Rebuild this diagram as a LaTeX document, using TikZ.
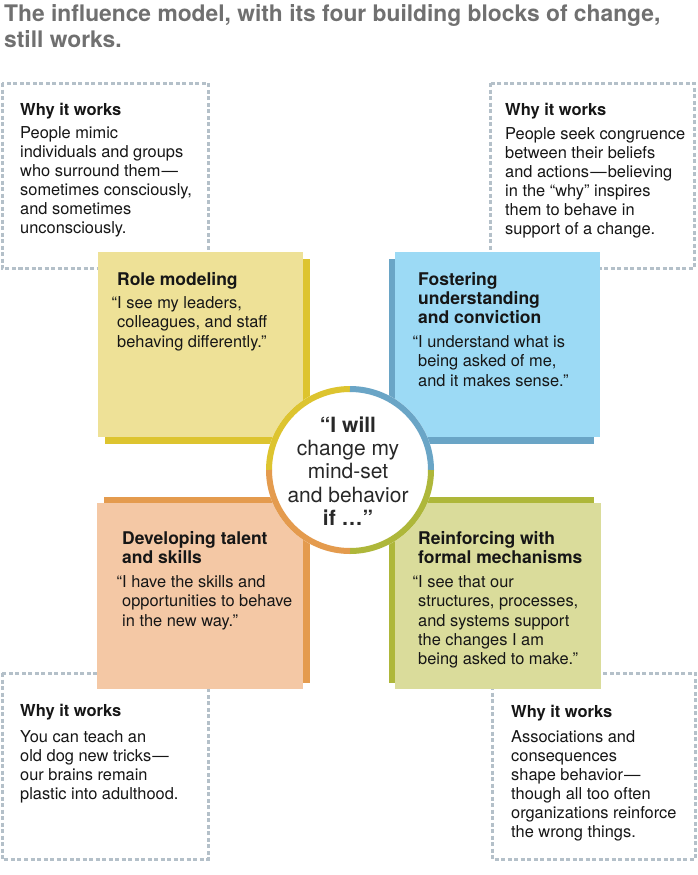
\documentclass[tikz,border=0pt]{standalone}
\usepackage{fontspec}
\setmainfont{TeX Gyre Heros}
\definecolor{titlec}{RGB}{112,112,112}
\definecolor{textc}{RGB}{22,22,22}
\definecolor{circtext}{RGB}{40,40,40}
\definecolor{dashc}{RGB}{180,192,201}
\definecolor{ylight}{RGB}{238,225,151}
\definecolor{ydark}{RGB}{221,196,47}
\definecolor{blight}{RGB}{156,218,245}
\definecolor{bdark}{RGB}{106,165,198}
\definecolor{glight}{RGB}{218,220,155}
\definecolor{gdark}{RGB}{174,183,58}
\definecolor{olight}{RGB}{244,200,165}
\definecolor{odark}{RGB}{228,155,78}
\newcommand\sr[1]{\rule{0pt}{#1}}
\newcommand\emd{\kern1.2pt—\kern1.2pt}
\newcommand\bodyfont{\fontsize{16.4}{19}\selectfont}
\newcommand\sqbodyfont{\fontsize{16.4}{19.4}\selectfont}
\newcommand\whyfont{\bfseries\fontsize{16.5}{19}\selectfont}
\newcommand\headfont{\bfseries\fontsize{17.5}{19}\selectfont}
\begin{document}
\begin{tikzpicture}[x=1pt,y=-1pt,
  txt/.style={inner sep=0pt, anchor=north west, align=left, text=textc},
  whybox/.style={draw=dashc, line width=3pt, dash pattern=on 4pt off 2.5pt},
  ring/.style={line width=6pt}]
\useasboundingbox (0,0) rectangle (697,875);
\fill[white] (0,0) rectangle (697,875);

% title
\node[txt, text=titlec, font=\bfseries\fontsize{22.8}{26}\selectfont] (title) at (4,2)
  {\sr{19pt}The influence model, with its four building blocks of change,\\still works.};

% dashed "why" boxes
\draw[whybox] (2,83) rectangle (208,268);
\draw[whybox] (490,83) rectangle (694,268);
\draw[whybox] (2,673) rectangle (208,859);
\draw[whybox] (492,673) rectangle (695,859);

\node[txt, font=\whyfont] (why1) at (20,102) {\sr{13pt}Why it works};
\node[txt, font=\bodyfont] (why1b) at (20,125) {\sr{13pt}People mimic\\individuals and groups\\who surround them\emd\\sometimes consciously,\\and sometimes\\unconsciously.};

\node[txt, font=\whyfont] (why2) at (505,102) {\sr{13pt}Why it works};
\node[txt, font=\bodyfont] (why2b) at (505,126) {\sr{13pt}People seek congruence\\between their beliefs\\and actions\emd believing\\in the “why” inspires\\them to behave in\\support of a change.};

\node[txt, font=\whyfont] (why3) at (20,703) {\sr{13pt}Why it works};
\node[txt, font=\bodyfont] (why3b) at (20,729) {\sr{13pt}You can teach an\\old dog new tricks\emd\\our brains remain\\plastic into adulthood.};

\node[txt, font=\whyfont] (why4) at (511,704) {\sr{13pt}Why it works};
\node[txt, font=\bodyfont] (why4b) at (511,729) {\sr{13pt}Associations and\\consequences\\shape behavior\emd\\though all too often\\organizations reinforce\\the wrong things.};

% shadows
\fill[ydark] (105,258.5) rectangle (310,443.5);
\fill[bdark] (388.5,258.5) rectangle (593.5,443.5);
\fill[gdark] (388.5,497) rectangle (594,682.5);
\fill[odark] (104,497) rectangle (309.5,682.5);
% squares
\fill[ylight] (98,252) rectangle (303,437);
\fill[blight] (395,252) rectangle (600,437);
\fill[glight] (395,503) rectangle (601,689);
\fill[olight] (97,503) rectangle (303,689);

% square texts
\node[txt, font=\headfont] (rm) at (117,271) {\sr{14pt}Role modeling};
\node[txt, font=\sqbodyfont] (rmb) at (117,295) {\sr{13pt}\llap{“}I see my leaders,\\colleagues, and staff\\behaving differently.”};

\node[txt, font=\headfont] (fu) at (418,271) {\sr{14pt}Fostering\\understanding\\and conviction};
\node[txt, font=\sqbodyfont] (fub) at (418,334) {\sr{13pt}\llap{“}I understand what is\\being asked of me,\\and it makes sense.”};

\node[txt, font=\headfont] (dt) at (122,530) {\sr{14pt}Developing talent\\and skills};
\node[txt, font=\sqbodyfont] (dtb) at (122,574) {\sr{13pt}\llap{“}I have the skills and\\opportunities to behave\\in the new way.”};

\node[txt, font=\headfont] (rf) at (418,530) {\sr{14pt}Reinforcing with\\formal mechanisms};
\node[txt, font=\sqbodyfont] (rfb) at (418,574) {\sr{13pt}\llap{“}I see that our\\structures, processes,\\and systems support\\the changes I am\\being asked to make.”};

% central circle (y axis points down: 270 is up)
\coordinate (c) at (350,470);
\fill[white] (c) circle[radius=84];
\draw[ring, ydark] ([shift={(180:81)}]c) arc[start angle=180, end angle=270, radius=81];
\draw[ring, bdark] ([shift={(270:81)}]c) arc[start angle=270, end angle=360, radius=81];
\draw[ring, gdark] ([shift={(0:81)}]c) arc[start angle=0, end angle=90, radius=81];
\draw[ring, odark] ([shift={(90:81)}]c) arc[start angle=90, end angle=180, radius=81];

\node[inner sep=0pt, anchor=north, align=center, text=circtext, font=\fontsize{21}{23.3}\selectfont] (ct) at (348,415)
  {\sr{17pt}\textbf{“I will}\\change my\\mind-set\\and behavior\\\textbf{if …”}};
\end{tikzpicture}
\end{document}
